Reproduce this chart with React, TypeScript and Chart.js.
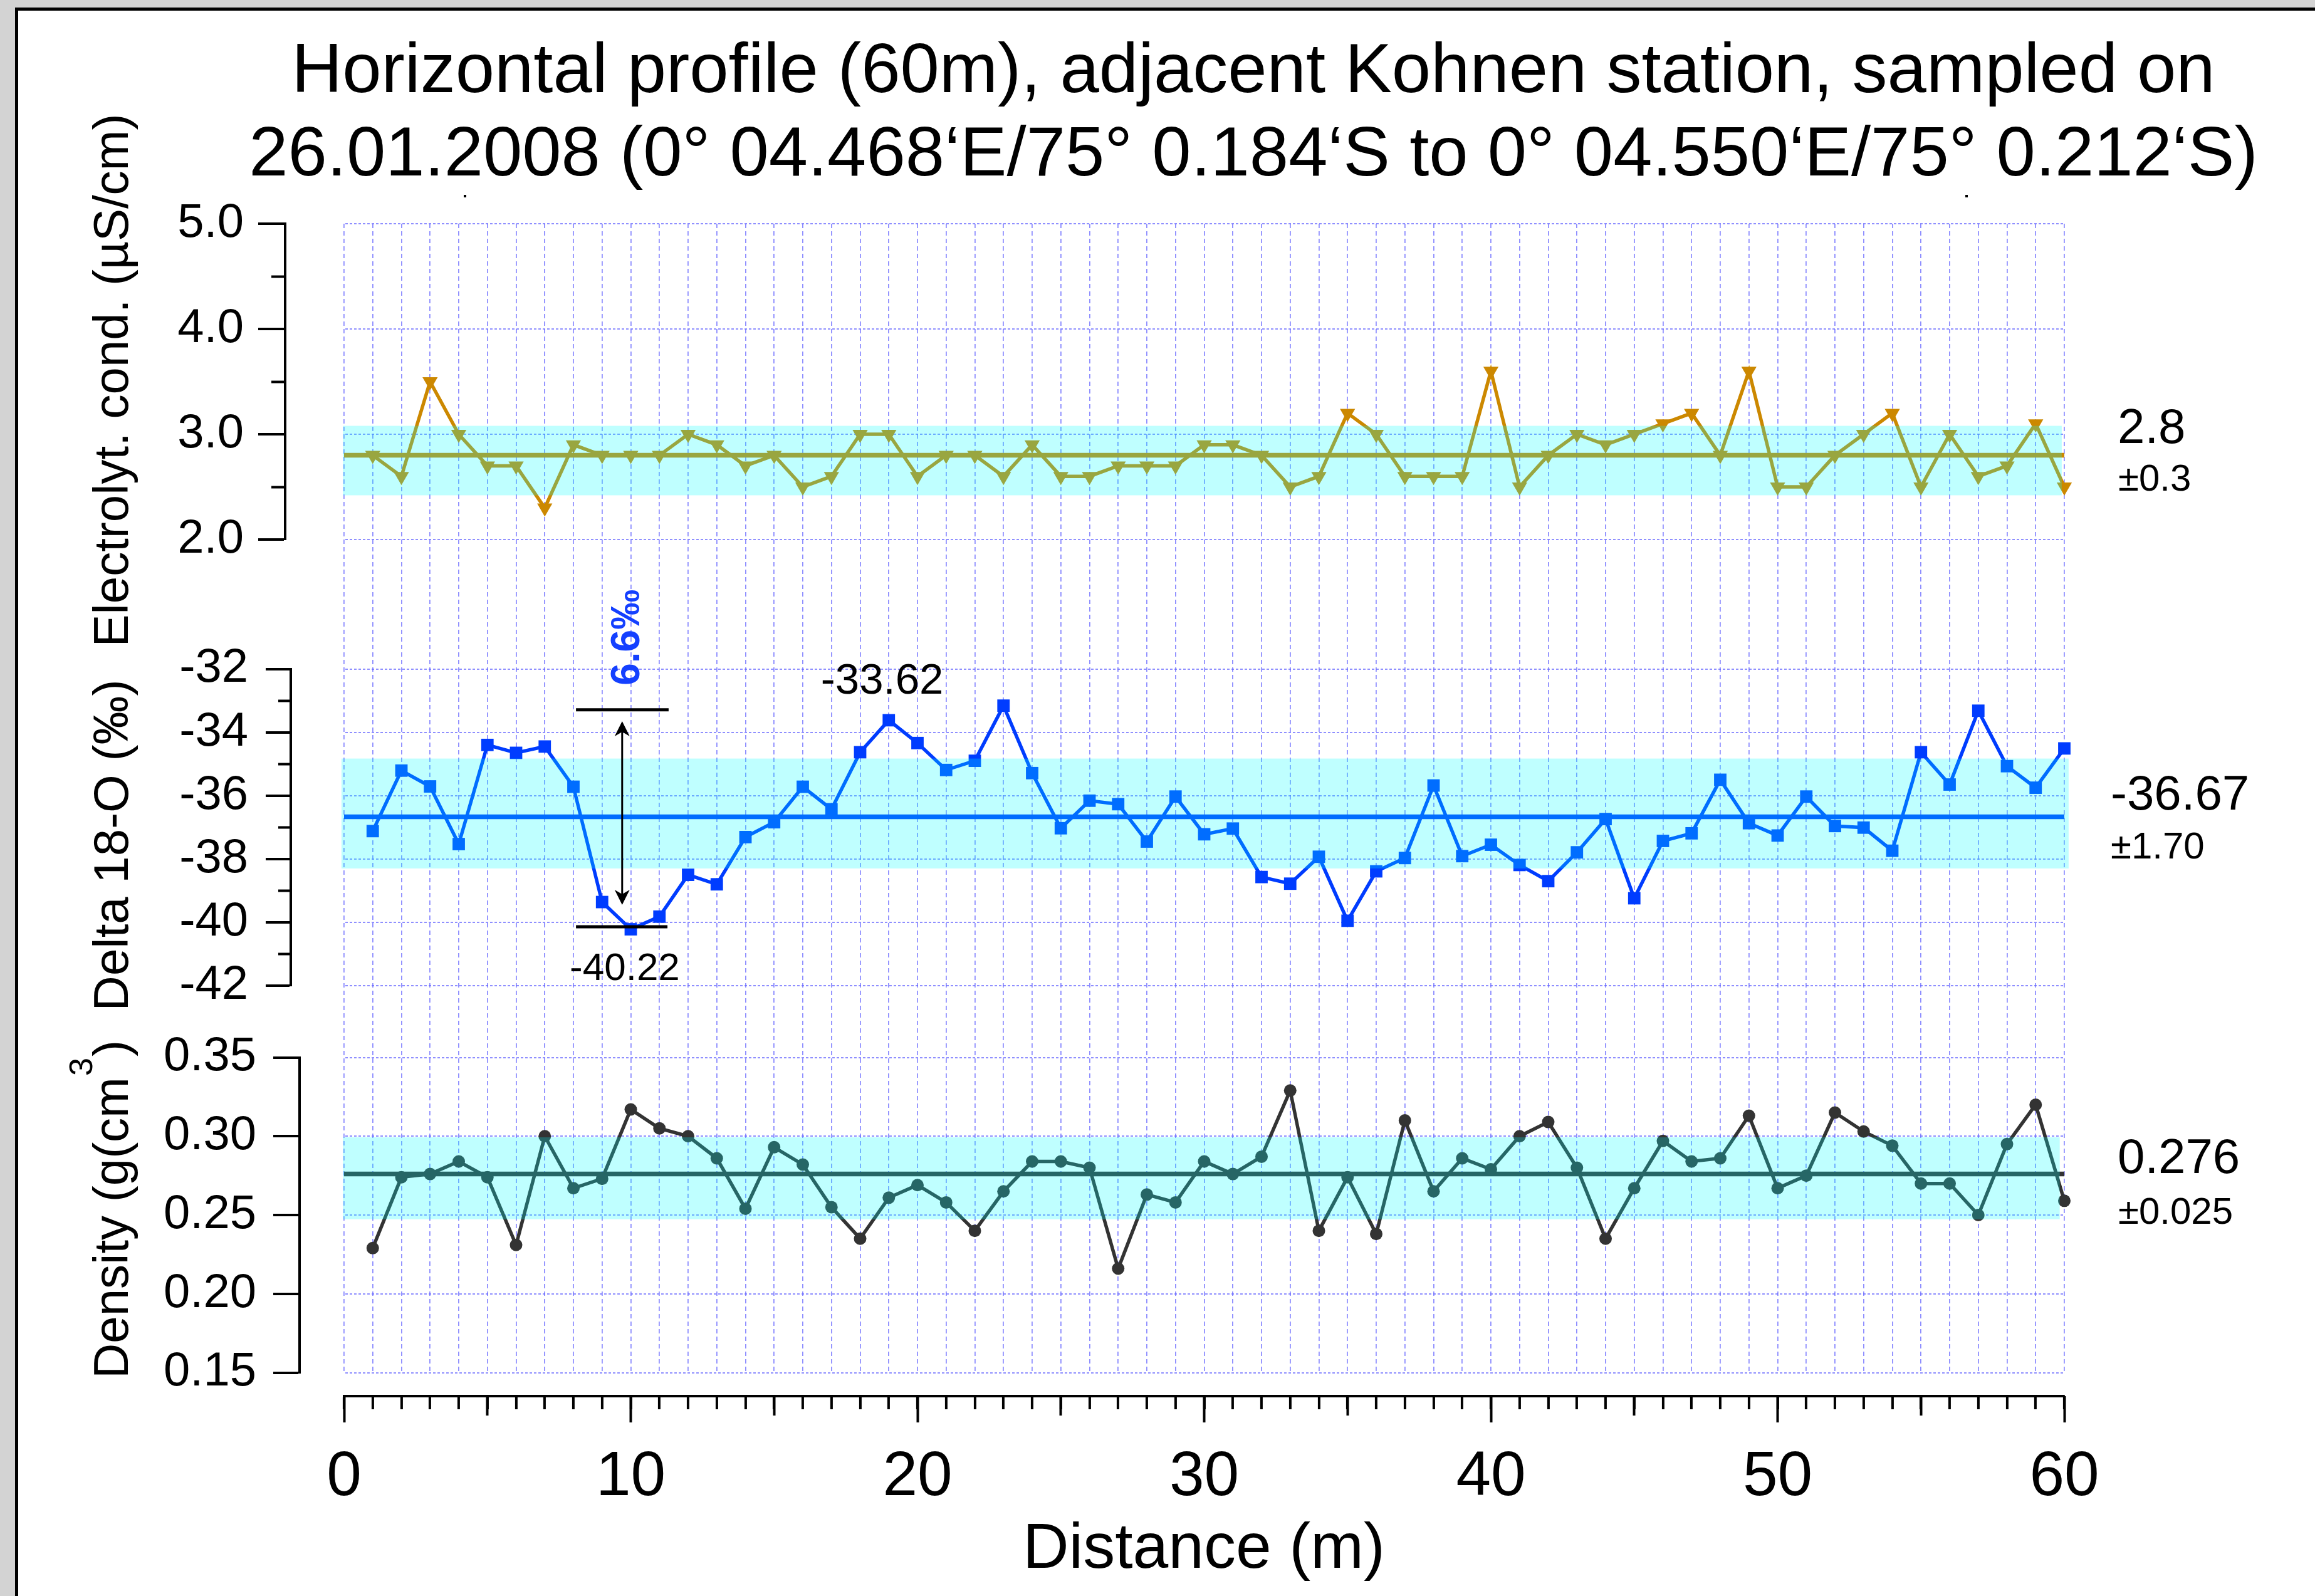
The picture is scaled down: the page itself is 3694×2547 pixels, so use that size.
import React, { useEffect, useRef } from 'react';
import { Chart, registerables } from 'chart.js';

Chart.register(...registerables);

const FONT = "'Liberation Sans', Arial, Helvetica, sans-serif";

// ---------------- data ----------------
const distance = [
  1, 2, 3, 4, 5, 6, 7, 8, 9, 10, 11, 12, 13, 14, 15, 16, 17, 18, 19, 20,
  21, 22, 23, 24, 25, 26, 27, 28, 29, 30, 31, 32, 33, 34, 35, 36, 37, 38, 39, 40,
  41, 42, 43, 44, 45, 46, 47, 48, 49, 50, 51, 52, 53, 54, 55, 56, 57, 58, 59, 60,
];

const conductivity = [
  2.8, 2.6, 3.5, 3.0, 2.7, 2.7, 2.3, 2.9, 2.8, 2.8,
  2.8, 3.0, 2.9, 2.7, 2.8, 2.5, 2.6, 3.0, 3.0, 2.6,
  2.8, 2.8, 2.6, 2.9, 2.6, 2.6, 2.7, 2.7, 2.7, 2.9,
  2.9, 2.8, 2.5, 2.6, 3.2, 3.0, 2.6, 2.6, 2.6, 3.6,
  2.5, 2.8, 3.0, 2.9, 3.0, 3.1, 3.2, 2.8, 3.6, 2.5,
  2.5, 2.8, 3.0, 3.2, 2.5, 3.0, 2.6, 2.7, 3.1, 2.5,
];

const delta18O = [
  -37.12, -35.21, -35.71, -37.53, -34.40, -34.65, -34.45, -35.72, -39.36, -40.22,
  -39.82, -38.50, -38.80, -37.31, -36.84, -35.72, -36.43, -34.63, -33.62, -34.34,
  -35.19, -34.90, -33.16, -35.29, -37.03, -36.16, -36.27, -37.45, -36.03, -37.22,
  -37.04, -38.57, -38.78, -37.93, -39.95, -38.39, -37.97, -35.68, -37.91, -37.55,
  -38.19, -38.70, -37.79, -36.74, -39.24, -37.43, -37.19, -35.50, -36.87, -37.26,
  -36.03, -36.96, -37.01, -37.74, -34.63, -35.65, -33.32, -35.07, -35.75, -34.51,
];

const density = [
  0.229, 0.274, 0.276, 0.284, 0.274, 0.231, 0.300, 0.267, 0.273, 0.317,
  0.305, 0.300, 0.286, 0.254, 0.293, 0.282, 0.255, 0.235, 0.261, 0.269,
  0.258, 0.240, 0.265, 0.284, 0.284, 0.280, 0.216, 0.263, 0.258, 0.284,
  0.276, 0.287, 0.329, 0.240, 0.274, 0.238, 0.310, 0.265, 0.286, 0.279,
  0.300, 0.309, 0.280, 0.235, 0.267, 0.297, 0.284, 0.286, 0.313, 0.267,
  0.275, 0.315, 0.303, 0.294, 0.270, 0.270, 0.250, 0.295, 0.320, 0.259,
];

// means and shaded ±1σ bands (low, high)
const condMean = 2.8;
const condBand = [2.42, 3.08];
const deltaMean = -36.67;
const deltaBand = [-38.3, -34.83];
const densityMean = 0.276;
const densityBand = [0.2473, 0.2993];

// tick values
const condTicks = [2, 3, 4, 5];
const condMinorTicks = [2.5, 3.5, 4.5];
const deltaTicks = [-42, -40, -38, -36, -34, -32];
const deltaMinorTicks = [-41, -39, -37, -35, -33];
const densityTicks = [0.15, 0.2, 0.25, 0.3, 0.35];
const distanceGrid = [
  0, 1, 2, 3, 4, 5, 6, 7, 8, 9, 10, 11, 12, 13, 14, 15, 16, 17, 18, 19, 20,
  21, 22, 23, 24, 25, 26, 27, 28, 29, 30, 31, 32, 33, 34, 35, 36, 37, 38, 39, 40,
  41, 42, 43, 44, 45, 46, 47, 48, 49, 50, 51, 52, 53, 54, 55, 56, 57, 58, 59, 60,
];
const distanceMidTicks = [5, 15, 25, 35, 45, 55];
const distanceLabelTicks = [0, 10, 20, 30, 40, 50, 60];

// texts
const titleLines = [
  'Horizontal profile (60m), adjacent Kohnen station, sampled on',
  '26.01.2008 (0\u00B0 04.468\u2018E/75\u00B0 0.184\u2018S to 0\u00B0 04.550\u2018E/75\u00B0 0.212\u2018S)',
];
const condTitle = 'Electrolyt. cond. (\u00B5S/cm)';
const deltaTitle = 'Delta 18-O (\u2030)';
const densityTitleMain = 'Density (g(cm';
const densityTitleSup = '3';
const densityTitleEnd = ')';
const xTitle = 'Distance (m)';
const condStats = ['2.8', '\u00B10.3'];
const deltaStats = ['-36.67', '\u00B11.70'];
const densityStats = ['0.276', '\u00B10.025'];
const maxLabel = '-33.62';
const minLabel = '-40.22';
const rangeLabel = '6.6\u2030';

// ---------------- layout constants ----------------
const W = 3694;
const H = 2547;
const PANELS: Record<string, { top: number; bottom: number; right: number }> = {
  yC: { top: 357, bottom: 861, right: 455 },
  yCm: { top: 357, bottom: 861, right: 455 },
  yO: { top: 1067.5, bottom: 1573, right: 464 },
  yOm: { top: 1067.5, bottom: 1573, right: 464 },
  yD: { top: 1687.5, bottom: 2190.5, right: 478 },
};
const X_AXIS_Y = 2228;
const GRID = 'rgba(100, 100, 255, 0.72)';
const C_COND = '#cc8800';
const C_DELTA = '#003cff';
const C_DENS = '#333333';

const setTicks = (values: number[]) => (scale: any) => {
  scale.ticks = values.map((v) => ({ value: v }));
};
const zeroWidth = (scale: any) => {
  scale.width = 0;
};
const zeroHeight = (scale: any) => {
  scale.height = 0;
};

const panelLayoutPlugin = {
  id: 'panelLayout',
  afterLayout(chart: any) {
    for (const id of Object.keys(PANELS)) {
      const s = chart.scales[id];
      if (!s) continue;
      const p = PANELS[id];
      s.top = p.top;
      s.bottom = p.bottom;
      s.height = p.bottom - p.top;
      s.right = p.right;
      s.left = 0;
      s.width = p.right;
      s.configure();
    }
    for (const id of ['x', 'x5', 'x10']) {
      const s = chart.scales[id];
      if (!s) continue;
      s.top = X_AXIS_Y;
      s.bottom = X_AXIS_Y + 300;
      s.height = 300;
      s.left = chart.chartArea.left;
      s.right = chart.chartArea.right;
      s.width = s.right - s.left;
      s.configure();
    }
  },
};

const framePlugin = {
  id: 'frame',
  beforeDraw(chart: any) {
    const ctx = chart.ctx;
    ctx.save();
    ctx.fillStyle = '#ffffff';
    ctx.fillRect(0, 0, W, H);
    ctx.fillStyle = '#d3d3d3';
    ctx.fillRect(0, 0, W, 12);
    ctx.fillRect(0, 0, 24, H);
    ctx.fillStyle = '#000000';
    ctx.fillRect(24, 12, W - 24, 5);
    ctx.fillRect(24, 12, 5, H - 12);
    ctx.restore();
  },
};

const bands = [
  { y: 'yC', lo: condBand[0], hi: condBand[1], x0: -0.04, x1: 59.91 },
  { y: 'yO', lo: deltaBand[0], hi: deltaBand[1], x0: -0.09, x1: 60.15 },
  { y: 'yD', lo: densityBand[0], hi: densityBand[1], x0: -0.04, x1: 59.84 },
];

const bandPlugin = {
  id: 'bands',
  afterDatasetsDraw(chart: any) {
    const ctx = chart.ctx;
    const xs = chart.scales.x;
    ctx.save();
    ctx.fillStyle = 'rgba(0, 255, 255, 0.25)';
    for (const b of bands) {
      const ys = chart.scales[b.y];
      const px0 = xs.getPixelForValue(b.x0);
      const px1 = xs.getPixelForValue(b.x1);
      const pyHi = ys.getPixelForValue(b.hi);
      const pyLo = ys.getPixelForValue(b.lo);
      ctx.fillRect(px0, pyHi, px1 - px0, pyLo - pyHi);
    }
    ctx.restore();
  },
};

function drawText(
  ctx: any,
  str: string,
  x: number,
  y: number,
  size: number,
  opts: { align?: string; weight?: string; color?: string; rotate?: boolean } = {}
) {
  ctx.save();
  ctx.font = `${opts.weight || 'normal'} ${size}px ${FONT}`;
  ctx.fillStyle = opts.color || '#000';
  ctx.textAlign = opts.align || 'left';
  ctx.textBaseline = 'alphabetic';
  ctx.translate(x, y);
  if (opts.rotate) ctx.rotate(-Math.PI / 2);
  ctx.fillText(str, 0, 0);
  ctx.restore();
}

const textPlugin = {
  id: 'texts',
  afterDraw(chart: any) {
    const ctx = chart.ctx;
    const xs = chart.scales.x;
    const yO = chart.scales.yO;

    // title
    drawText(ctx, titleLines[0], 2000, 147, 112, { align: 'center' });
    drawText(ctx, titleLines[1], 2000, 280, 112, { align: 'center' });
    ctx.save();
    ctx.fillStyle = '#000';
    ctx.fillRect(740, 311, 4, 4);
    ctx.fillRect(3136, 311, 4, 4);
    ctx.restore();

    // y titles
    drawText(ctx, condTitle, 204, 607, 78, { align: 'center', rotate: true });
    drawText(ctx, deltaTitle, 204, 1349, 78, { align: 'center', rotate: true });
    ctx.save();
    ctx.translate(204, 1930);
    ctx.rotate(-Math.PI / 2);
    ctx.fillStyle = '#000';
    ctx.textBaseline = 'alphabetic';
    ctx.textAlign = 'left';
    ctx.font = `78px ${FONT}`;
    const wa = ctx.measureText(densityTitleMain).width;
    const wc = ctx.measureText(densityTitleEnd).width;
    ctx.font = `52px ${FONT}`;
    const wb = ctx.measureText(densityTitleSup).width;
    const total = wa + wb + wc + 4;
    let cx = -total / 2;
    ctx.font = `78px ${FONT}`;
    ctx.fillText(densityTitleMain, cx, 0);
    cx += wa + 2;
    ctx.font = `52px ${FONT}`;
    ctx.fillText(densityTitleSup, cx, -57);
    cx += wb + 2;
    ctx.font = `78px ${FONT}`;
    ctx.fillText(densityTitleEnd, cx, 0);
    ctx.restore();

    // x title
    drawText(ctx, xTitle, 1921, 2502, 102, { align: 'center' });

    // right-hand statistics
    drawText(ctx, condStats[0], 3379, 707, 78);
    drawText(ctx, condStats[1], 3380, 783, 60);
    drawText(ctx, deltaStats[0], 3368, 1292, 78);
    drawText(ctx, deltaStats[1], 3368, 1370, 60);
    drawText(ctx, densityStats[0], 3379, 1872, 78);
    drawText(ctx, densityStats[1], 3380, 1953, 60);

    // annotations in the delta-18O panel
    const px = (v: number) => xs.getPixelForValue(v);
    const py = (v: number) => yO.getPixelForValue(v);
    ctx.save();
    ctx.strokeStyle = '#000';
    ctx.fillStyle = '#000';
    ctx.lineWidth = 5;
    ctx.beginPath();
    ctx.moveTo(px(8.09), py(-33.29));
    ctx.lineTo(px(11.32), py(-33.29));
    ctx.moveTo(px(8.09), py(-40.14));
    ctx.lineTo(px(11.28), py(-40.14));
    ctx.stroke();
    const ax = px(9.7);
    const aTop = py(-33.65);
    const aBot = py(-39.45);
    ctx.lineWidth = 3;
    ctx.beginPath();
    ctx.moveTo(ax, aTop + 12);
    ctx.lineTo(ax, aBot - 12);
    ctx.stroke();
    ctx.beginPath();
    ctx.moveTo(ax, aTop);
    ctx.lineTo(ax - 12, aTop + 24);
    ctx.lineTo(ax, aTop + 17);
    ctx.lineTo(ax + 12, aTop + 24);
    ctx.closePath();
    ctx.fill();
    ctx.beginPath();
    ctx.moveTo(ax, aBot);
    ctx.lineTo(ax - 12, aBot - 24);
    ctx.lineTo(ax, aBot - 17);
    ctx.lineTo(ax + 12, aBot - 24);
    ctx.closePath();
    ctx.fill();
    ctx.restore();

    drawText(ctx, maxLabel, px(16.63), py(-32.78), 69);
    drawText(ctx, minLabel, px(7.87), py(-41.82), 62);
    drawText(ctx, rangeLabel, px(10.3), py(-32.52), 64, { weight: 'bold', color: '#1440ff', rotate: true });
  },
};

function seriesDataset(yAxisID: string, values: number[], color: string, style: string, radius: number, rotation: number) {
  return {
    label: yAxisID,
    data: distance.map((d, i) => ({ x: d, y: values[i] })),
    xAxisID: 'x',
    yAxisID,
    borderColor: color,
    backgroundColor: color,
    borderWidth: 5.5,
    pointStyle: style,
    pointRadius: radius,
    pointRotation: rotation,
    pointBackgroundColor: color,
    pointBorderColor: color,
    pointBorderWidth: 0,
    tension: 0,
    clip: false,
  };
}

function meanDataset(yAxisID: string, mean: number, color: string) {
  return {
    label: yAxisID + '-mean',
    data: [
      { x: 0, y: mean },
      { x: 60, y: mean },
    ],
    xAxisID: 'x',
    yAxisID,
    borderColor: color,
    borderWidth: 7.5,
    pointRadius: 0,
    tension: 0,
    clip: false,
  };
}

function yScale(min: number, max: number, ticks: number[], fmt: (v: number) => string, tl: number, pad: number) {
  return {
    type: 'linear',
    position: 'left',
    min,
    max,
    afterBuildTicks: setTicks(ticks),
    afterFit: zeroWidth,
    grid: {
      display: true,
      drawOnChartArea: true,
      drawTicks: true,
      tickLength: tl,
      color: GRID,
      lineWidth: 2,
      tickColor: '#000',
      tickWidth: 4,
      tickBorderDash: [],
    },
    border: { display: true, color: '#000', width: 4, dash: [4, 3] },
    ticks: {
      display: true,
      color: '#000',
      padding: pad,
      font: { family: FONT, size: 76 },
      callback: (v: number) => fmt(v),
    },
  };
}

function minorYScale(min: number, max: number, ticks: number[], tl: number) {
  return {
    type: 'linear',
    position: 'left',
    min,
    max,
    afterBuildTicks: setTicks(ticks),
    afterFit: zeroWidth,
    grid: { display: true, drawOnChartArea: false, drawTicks: true, tickLength: tl, tickColor: '#000', tickWidth: 4 },
    border: { display: false },
    ticks: { display: false },
  };
}

function xGhostScale(ticks: number[], tl: number, withLabels: boolean) {
  return {
    type: 'linear',
    position: 'bottom',
    min: 0,
    max: 60,
    afterBuildTicks: setTicks(ticks),
    afterFit: zeroHeight,
    grid: { display: true, drawOnChartArea: false, drawTicks: true, tickLength: tl, tickColor: '#000', tickWidth: 4 },
    border: { display: false },
    ticks: withLabels
      ? {
          display: true,
          autoSkip: false,
          maxRotation: 0,
          minRotation: 0,
          color: '#000',
          padding: 28,
          font: { family: FONT, size: 100 },
          callback: (v: number) => String(v),
        }
      : { display: false },
  };
}

export default function App() {
  const ref = useRef<HTMLCanvasElement | null>(null);

  useEffect(() => {
    if (!ref.current) return;
    const chart = new Chart(ref.current, {
      type: 'line',
      data: {
        datasets: [
          seriesDataset('yC', conductivity, C_COND, 'triangle', 14, 180),
          meanDataset('yC', condMean, C_COND),
          seriesDataset('yO', delta18O, C_DELTA, 'rect', 14, 0),
          meanDataset('yO', deltaMean, C_DELTA),
          seriesDataset('yD', density, C_DENS, 'circle', 10, 0),
          meanDataset('yD', densityMean, C_DENS),
        ] as any,
      },
      options: {
        responsive: false,
        animation: false,
        devicePixelRatio: 1,
        events: [],
        layout: { padding: { left: 549, top: 357, right: W - 3294, bottom: H - 2190.5 } },
        plugins: {
          legend: { display: false },
          tooltip: { enabled: false },
          title: { display: false },
        },
        scales: {
          x: {
            type: 'linear',
            position: 'bottom',
            min: 0,
            max: 60,
            afterBuildTicks: setTicks(distanceGrid),
            afterFit: zeroHeight,
            grid: {
              display: true,
              drawOnChartArea: true,
              drawTicks: true,
              tickLength: 21,
              color: GRID,
              lineWidth: 1.8,
              tickColor: '#000',
              tickWidth: 4,
              tickBorderDash: [],
            },
            border: { display: true, color: '#000', width: 4, dash: [7, 5] },
            ticks: { display: false },
          },
          x5: xGhostScale(distanceMidTicks, 31, false),
          x10: xGhostScale(distanceLabelTicks, 42, true),
          yC: yScale(2, 5, condTicks, (v) => v.toFixed(1), 43, 23),
          yCm: minorYScale(2, 5, condMinorTicks, 22),
          yO: yScale(-42, -32, deltaTicks, (v) => String(v), 40, 28),
          yOm: minorYScale(-42, -32, deltaMinorTicks, 20),
          yD: yScale(0.15, 0.35, densityTicks, (v) => v.toFixed(2), 42, 27),
        } as any,
      },
      plugins: [panelLayoutPlugin, framePlugin, bandPlugin, textPlugin],
    } as any);
    return () => chart.destroy();
  }, []);

  return (
    <div style={{ position: 'absolute', left: 0, top: 0, width: W, height: H, background: '#fff' }}>
      <canvas ref={ref} width={W} height={H} style={{ display: 'block', width: W + 'px', height: H + 'px' }} />
    </div>
  );
}
